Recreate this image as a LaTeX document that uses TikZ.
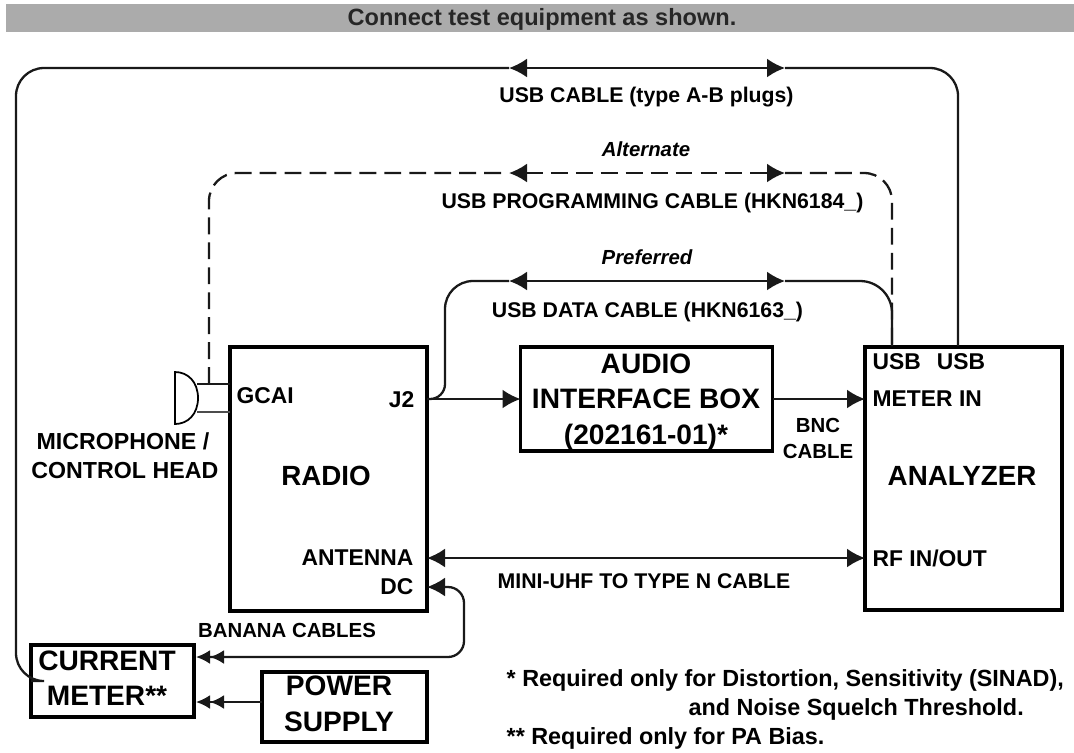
\documentclass[tikz,border=0pt]{standalone}
\usepackage{fontspec}
\setmainfont{Liberation Sans}
\usetikzlibrary{arrows.meta, calc}

\begin{document}
\begin{tikzpicture}[
    every node/.style={inner sep=0pt, align=center},
    caixa/.style={
        draw=black,
        line width=1pt,
        outer sep=0pt,
        fill=white
    },
    cabo/.style={
        draw=black!90,
        line width=0.65pt,
        >={Latex[length=1.8mm,width=1.9mm]}
    },
    tracejado/.style={
        cabo,
        dash pattern=on 4.8pt off 2.3pt
    },
    grande/.style={font=\fontsize{8}{10.1}\selectfont\bfseries},
    titulo/.style={font=\fontsize{7.9}{9}\selectfont\bfseries},
    porta/.style={font=\fontsize{6.5}{8}\selectfont\bfseries},
    legenda/.style={font=\fontsize{6.05}{7.4}\selectfont\bfseries},
    legendait/.style={font=\fontsize{5.8}{7}\selectfont\bfseries\itshape},
    nota/.style={font=\fontsize{6.65}{8}\selectfont\bfseries, anchor=west},
    duas/.style={arrows={-{Latex[length=1.4mm,width=1.4mm]Latex[length=1.4mm,width=1.4mm]}}}
]
\useasboundingbox (0,0) rectangle (10.74,7.52);

% ============================================================
% HEADER
% ============================================================

\node[
    fill=black!33,
    minimum width=10.68cm,
    minimum height=0.28cm
] (header) at (5.40,7.34)
{};
\node[font=\fontsize{6.7}{8}\selectfont\bfseries, text=black!85] (headertext) at (5.42,7.33)
{Connect test equipment as shown.};

% ============================================================
% BOXES
% ============================================================

\node[caixa, minimum width=1.97cm, minimum height=2.64cm] (radio) at (3.285,2.73) {};
\node[titulo] (radiotext) at (3.26,2.76) {RADIO};

\node[caixa, minimum width=2.52cm, minimum height=1.04cm] (audio) at (6.465,3.53) {};
\node[grande] (audiotext) at (6.46,3.50)
{AUDIO\\
INTERFACE BOX\\
(202161-01)*};

\node[caixa, minimum width=1.97cm, minimum height=2.63cm] (analyzer) at (9.635,2.735) {};
\node[titulo] (analyzertext) at (9.62,2.76) {ANALYZER};

\node[caixa, minimum width=1.63cm, minimum height=0.72cm] (meter) at (1.125,0.71) {};
\node[grande] (metertext) at (1.07,0.74)
{CURRENT\\
METER**};

\node[caixa, minimum width=1.65cm, minimum height=0.70cm] (supply) at (3.445,0.45) {};
\node[grande] (supplytext) at (3.39,0.48)
{POWER\\
SUPPLY};

% Labels inside the boxes
\node[porta, anchor=west] (gcai) at (2.36,3.56) {GCAI};
\node[porta, anchor=east] (jtwo) at (4.15,3.52) {J2};
\node[porta, anchor=east] (antenna) at (4.14,1.94) {ANTENNA};
\node[porta, anchor=east] (dc) at (4.14,1.65) {DC};
\node[porta, anchor=west] (usbports) at (8.72,3.90) {USB\hspace{0.7em}USB};
\node[porta, anchor=west] (meterin) at (8.72,3.53) {METER IN};
\node[porta, anchor=west] (rfinout) at (8.72,1.94) {RF IN/OUT};

% ============================================================
% MICROPHONE
% ============================================================

\coordinate (mictop) at (1.97,3.68);
\coordinate (micbot) at (1.97,3.40);

\draw[line width=0.5pt, fill=white] (1.75,3.80)
    .. controls (1.88,3.80) and (1.98,3.70) .. (1.98,3.54)
    .. controls (1.98,3.38) and (1.88,3.28) .. (1.75,3.28) -- cycle;
\draw[cabo] (mictop) -- (mictop -| radio.west);
\draw[cabo, draw=black!70] (micbot) -- (micbot -| radio.west);

\node[font=\fontsize{6.6}{8.3}\selectfont\bfseries, align=right, anchor=north east] (micro) at (2.19,3.20)
{MICROPHONE /\hspace*{0.09cm}\\
CONTROL HEAD};

% ============================================================
% CABLES
% ============================================================

% USB cable
\coordinate (usbleft) at (5.09,6.84);
\coordinate (usbright) at (7.85,6.84);
\coordinate (usbtop) at (9.58,4.06);

\draw[cabo, rounded corners=0.28cm]
    (meter.west) -- ++(-0.15,0) |- (usbleft);
\draw[cabo, <->] (usbleft) -- (usbright);
\draw[cabo, rounded corners=0.28cm] (usbright) -| (usbtop);

\node[legenda] (usblabel) at (6.465,6.55) {USB CABLE (type A-B plugs)};

% USB programming cable
\coordinate (altleft) at (5.09,5.79);
\coordinate (altright) at (7.85,5.79);
\coordinate (alttop) at (8.92,4.06);

\draw[tracejado, rounded corners=0.28cm] (2.09,3.68) |- (altleft);
\draw[tracejado, <->] (altleft) -- (altright);
\draw[tracejado, rounded corners=0.28cm] (altright) -| (alttop);

\node[legendait] (altlabel) at (6.46,6.03) {Alternate};
\node[legenda] (proglabel) at (6.525,5.49) {USB PROGRAMMING CABLE (HKN6184\_)};

% USB data cable
\coordinate (dataleft) at (5.09,4.71);
\coordinate (dataright) at (7.85,4.71);

\draw[cabo] (radio.east |- audio.west)
    [rounded corners=0.15cm] -| (4.45,4.20)
    [rounded corners=0.28cm] |- (dataleft);
\draw[cabo, <->] (dataleft) -- (dataright);
\draw[cabo, rounded corners=0.32cm] (dataright) -| (alttop);

\node[legendait] (preflabel) at (6.47,4.95) {Preferred};
\node[legenda] (datalabel) at (6.475,4.40) {USB DATA CABLE (HKN6163\_)};

% Audio path
\draw[cabo, ->] (radio.east |- audio.west) -- (audio.west);
\draw[cabo, ->] (audio.east) -- (analyzer.west |- audio.east);

\node[font=\fontsize{5.8}{7.4}\selectfont\bfseries] (bnclabel) at (8.18,3.14) {BNC\\
CABLE};

% RF path
\coordinate (rfport) at (radio.east |- antenna);
\draw[cabo, <->] (rfport) -- (rfport -| analyzer.west);

\node[legenda] (minilabel) at (6.44,1.71) {MINI-UHF TO TYPE N CABLE};

% Banana cables
\coordinate (dcport) at (radio.east |- dc);
\coordinate (meterup) at (1.96,0.95);
\coordinate (meterlow) at (1.96,0.50);

\draw[cabo, rounded corners=0.16cm,
    arrows={{Latex[length=1.8mm,width=1.9mm]}-{Latex[length=1.4mm,width=1.4mm]Latex[length=1.4mm,width=1.4mm]}}]
    (dcport) -- (4.64,1.65) -- (4.64,0.95) -- (meterup);
\draw[cabo, duas] (supply.west |- meterlow) -- (meterlow);

\node[font=\fontsize{5.8}{7}\selectfont\bfseries] (bananalabel) at (2.87,1.22) {BANANA CABLES};

% ============================================================
% NOTES
% ============================================================

\node[nota] (notaum) at (5.06,0.72) {* Required only for Distortion, Sensitivity (SINAD),};
\node[nota] (notadois) at (6.88,0.43) {and Noise Squelch Threshold.};
\node[nota] (notatres) at (5.06,0.14) {** Required only for PA Bias.};

\end{tikzpicture}
\end{document}
